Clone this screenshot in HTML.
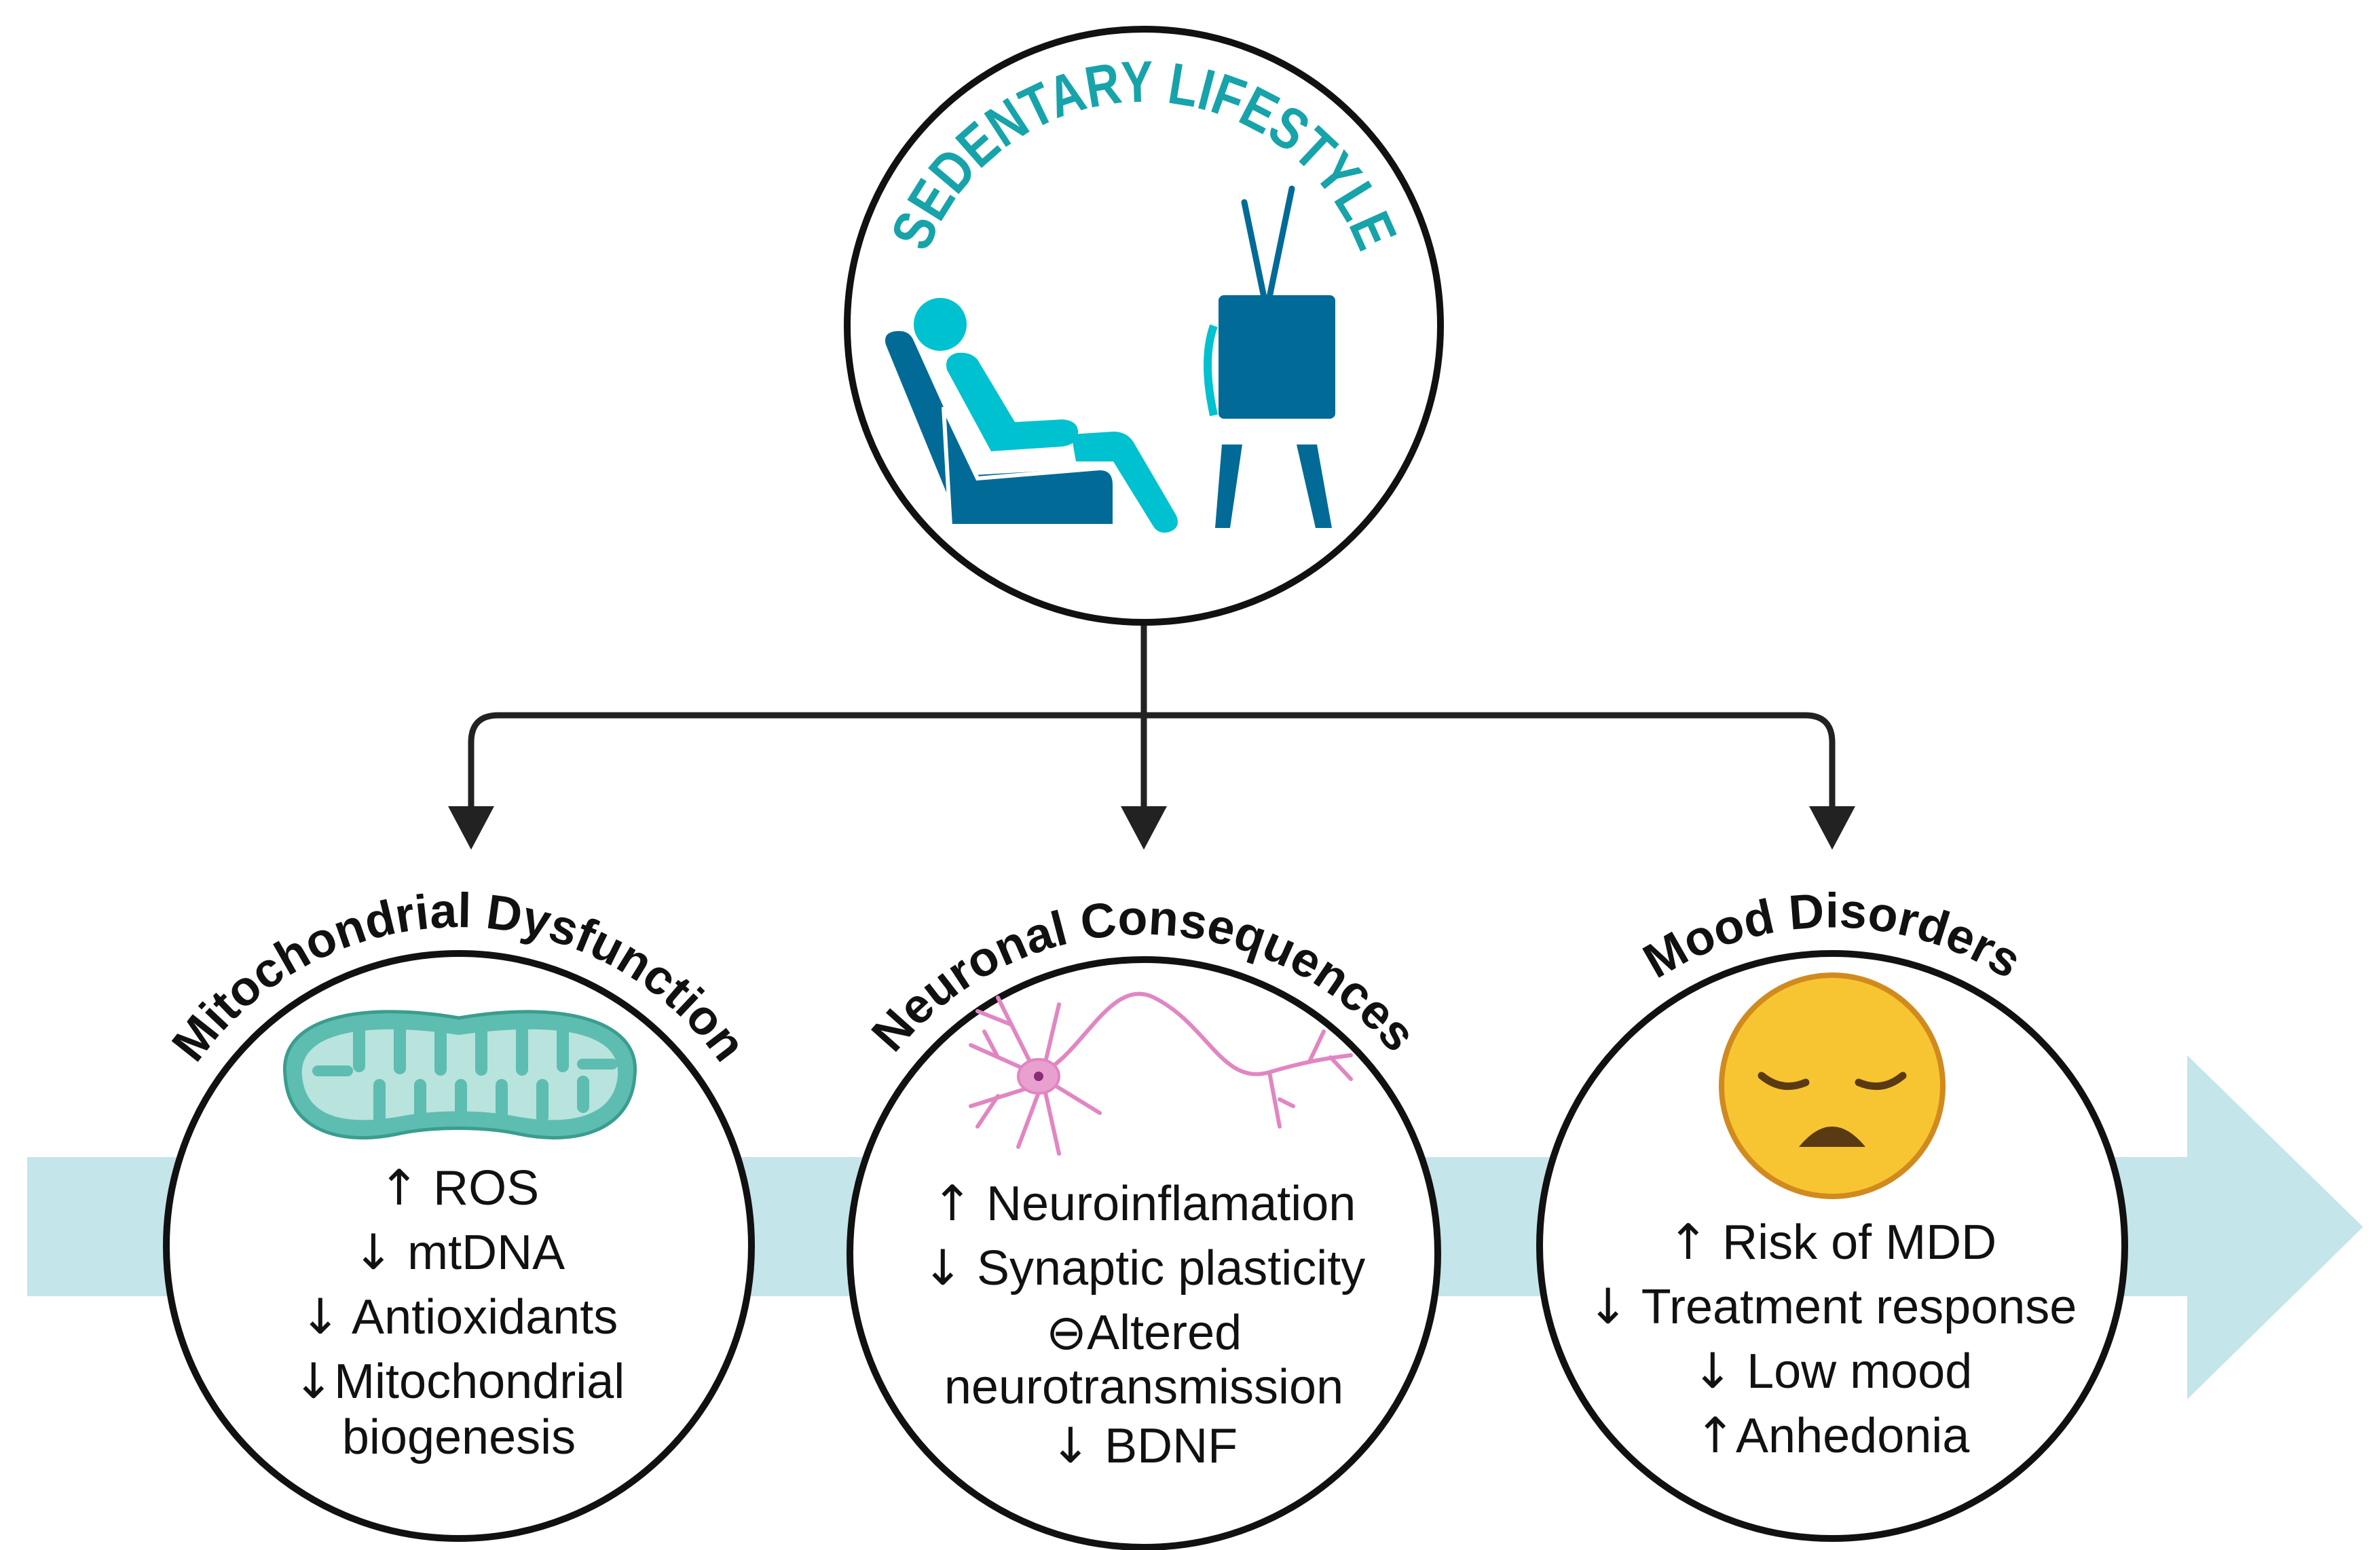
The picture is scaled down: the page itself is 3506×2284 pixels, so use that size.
<!DOCTYPE html>
<html><head><meta charset="utf-8"><style>html,body{margin:0;padding:0;background:#fff}svg{display:block}.a{font-family:"DejaVu Sans",sans-serif}</style></head>
<body>
<svg width="3506" height="2284" viewBox="0 0 3506 2284" xmlns="http://www.w3.org/2000/svg" font-family="Liberation Sans, sans-serif">
<defs>
<path id="arcTop" d="M1345,490 A340,340 0 0 1 2025,490"/>
<path id="arcL" d="M206,1836 A470,470 0 0 1 1146,1836"/>
<path id="arcM" d="M1215,1847 A470,470 0 0 1 2155,1847"/>
<path id="arcR" d="M2229,1836 A470,470 0 0 1 3169,1836"/>
</defs>
<polygon points="40,1705 3222,1705 3222,1555 3481,1808 3222,2062 3222,1910 40,1910" fill="#c4e5ea"/>
<g stroke="#222" stroke-width="9" fill="none">
<line x1="1685" y1="919" x2="1685" y2="1195"/>
<path d="M694,1190 L694,1094 Q694,1054 734,1054 L2659,1054 Q2699,1054 2699,1094 L2699,1190"/>
</g>
<g fill="#222">
<polygon points="660,1188 728,1188 694,1252"/>
<polygon points="1651,1188 1719,1188 1685,1252"/>
<polygon points="2665,1188 2733,1188 2699,1252"/>
</g>
<g fill="#fff" stroke="#111" stroke-width="10">
<circle cx="1685" cy="480" r="437"/>
<circle cx="676" cy="1836" r="431"/>
<circle cx="1685" cy="1847" r="433"/>
<circle cx="2699" cy="1836" r="431"/>
</g>
<text font-size="86" font-weight="bold" fill="#17a3aa"><textPath href="#arcTop" startOffset="50%" text-anchor="middle" textLength="830" lengthAdjust="spacingAndGlyphs">SEDENTARY LIFESTYLE</textPath></text>
<g>
<path d="M1305,508 Q1300,490 1320,488 Q1338,486 1345,500 L1435,700 L1610,690 Q1640,690 1642,720 L1642,775 L1400,775 L1400,740 Z" fill="#016a96"/>
<circle cx="1385" cy="478" r="39" fill="#00c1cf"/>
<path d="M1395,545 Q1390,525 1410,520 Q1430,518 1440,530 L1495,622 L1565,618 Q1590,620 1588,640 Q1586,655 1565,658 L1460,665 Z" fill="#00c1cf"/>
<path d="M1578,640 L1640,636 Q1660,636 1670,652 L1733,760 Q1740,778 1722,784 Q1706,788 1698,774 L1640,680 L1585,680 Z" fill="#00c1cf"/>
<path d="M1390,600 L1440,705 L1620,690 Q1642,690 1642,715 L1642,775 L1400,775 Z" fill="#016a96" stroke="#fff" stroke-width="6"/>
</g>
<g>
<line x1="1833" y1="298" x2="1862" y2="438" stroke="#016a96" stroke-width="9" stroke-linecap="round"/>
<line x1="1903" y1="278" x2="1870" y2="438" stroke="#016a96" stroke-width="9" stroke-linecap="round"/>
<path d="M1788,480 Q1770,530 1788,612" stroke="#00c1cf" stroke-width="12" fill="none"/>
<rect x="1795" y="435" width="172" height="182" rx="8" fill="#016a96"/>
<polygon points="1800,655 1830,655 1812,778 1790,778" fill="#016a96"/>
<polygon points="1910,655 1940,655 1962,778 1938,778" fill="#016a96"/>
</g>
<g font-size="72" font-weight="bold" fill="#111">
<text><textPath href="#arcL" startOffset="50%" text-anchor="middle">Mitochondrial Dysfunction</textPath></text>
<text><textPath href="#arcM" startOffset="50%" text-anchor="middle">Neuronal Consequences</textPath></text>
<text><textPath href="#arcR" startOffset="50%" text-anchor="middle">Mood Disorders</textPath></text>
</g>
<g>
<path d="M420,1585 C410,1500 530,1475 676,1500 C820,1475 945,1500 935,1585 C930,1665 850,1690 760,1670 C710,1660 640,1660 590,1670 C500,1690 425,1665 420,1585 Z" fill="#5dbdb0" stroke="#3a9d8f" stroke-width="5"/>
<path d="M445,1585 C440,1520 540,1505 676,1525 C820,1505 915,1520 910,1585 C905,1645 840,1660 760,1645 C710,1635 640,1635 590,1645 C505,1660 450,1645 445,1585 Z" fill="#b9e3dd"/>
<g fill="#5dbdb0">
<rect x="520" y="1510" width="18" height="70" rx="9"/>
<rect x="580" y="1508" width="18" height="75" rx="9"/>
<rect x="640" y="1510" width="18" height="75" rx="9"/>
<rect x="700" y="1510" width="18" height="75" rx="9"/>
<rect x="760" y="1510" width="18" height="75" rx="9"/>
<rect x="820" y="1510" width="18" height="70" rx="9"/>
<rect x="550" y="1590" width="18" height="70" rx="9"/>
<rect x="610" y="1590" width="18" height="60" rx="9"/>
<rect x="670" y="1590" width="18" height="60" rx="9"/>
<rect x="730" y="1590" width="18" height="60" rx="9"/>
<rect x="790" y="1590" width="18" height="65" rx="9"/>
<rect x="850" y="1585" width="18" height="55" rx="9"/>
<rect x="460" y="1570" width="60" height="16" rx="8"/>
<rect x="850" y="1560" width="60" height="16" rx="8"/>
</g>
</g>
<g stroke="#e186c2" stroke-width="6" fill="none" stroke-linecap="round">
<path d="M1545,1575 C1600,1540 1640,1440 1700,1470 C1780,1510 1800,1600 1870,1580 C1920,1565 1950,1560 1990,1555"/>
<path d="M1870,1580 L1885,1660 M1885,1620 L1905,1630 M1930,1562 L1950,1520 M1960,1558 L1990,1590"/>
<path d="M1520,1580 L1430,1540 M1470,1558 L1450,1520 M1520,1570 L1470,1470 M1490,1510 L1440,1490 M1525,1600 L1430,1630 M1470,1615 L1440,1660 M1530,1610 L1500,1690 M1540,1610 L1560,1700 M1555,1600 L1620,1640 M1540,1565 L1560,1480"/>
</g>
<ellipse cx="1530" cy="1586" rx="30" ry="25" fill="#e8a1cf" stroke="#e186c2" stroke-width="4"/>
<circle cx="1530" cy="1586" r="7" fill="#8a2c78"/>
<circle cx="2699" cy="1600" r="163" fill="#f7c531" stroke="#d08a1e" stroke-width="8"/>
<g stroke="#5a3a12" stroke-width="11" fill="none" stroke-linecap="round">
<path d="M2595,1585 Q2625,1610 2660,1595"/>
<path d="M2738,1595 Q2773,1610 2803,1585"/>
</g>
<path d="M2650,1690 Q2699,1630 2748,1690 Z" fill="#5a3a12"/>
<g font-size="72" fill="#111" text-anchor="middle">
<text x="676" y="1775"><tspan class="a">↑</tspan> ROS</text>
<text x="676" y="1870"><tspan class="a">↓</tspan> mtDNA</text>
<text x="676" y="1965"><tspan class="a">↓</tspan> Antioxidants</text>
<text x="676" y="2060"><tspan class="a">↓</tspan>Mitochondrial</text>
<text x="676" y="2142">biogenesis</text>
<text x="1685" y="1798"><tspan class="a">↑</tspan> Neuroinflamation</text>
<text x="1685" y="1893"><tspan class="a">↓</tspan> Synaptic plasticity</text>
<text x="1685" y="1988"><tspan class="a">⊖</tspan>Altered</text>
<text x="1685" y="2068">neurotransmission</text>
<text x="1685" y="2155"><tspan class="a">↓</tspan> BDNF</text>
<text x="2699" y="1855"><tspan class="a">↑</tspan> Risk of MDD</text>
<text x="2699" y="1950"><tspan class="a">↓</tspan> Treatment response</text>
<text x="2699" y="2045"><tspan class="a">↓</tspan> Low mood</text>
<text x="2699" y="2140"><tspan class="a">↑</tspan>Anhedonia</text>
</g>
</svg>
</body></html>
